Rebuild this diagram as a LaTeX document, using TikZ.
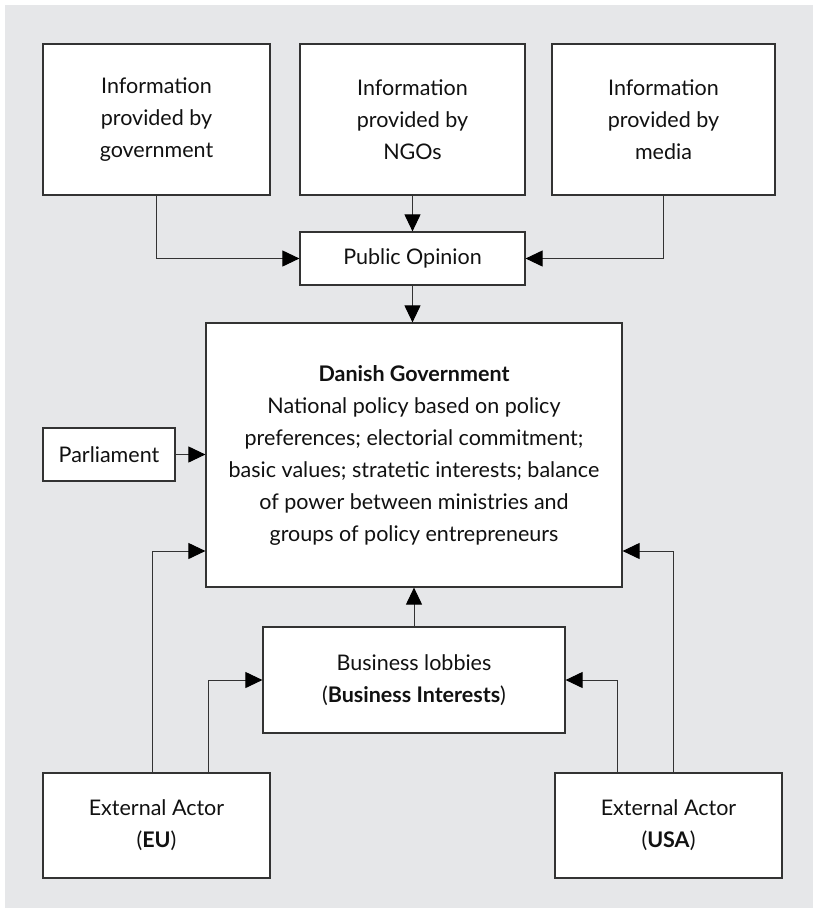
\documentclass[tikz,border=0pt]{standalone}
\usepackage{fontspec}
\setmainfont{Lato}
\usetikzlibrary{arrows.meta}
\definecolor{bg}{HTML}{E6E7E9}
\definecolor{ln}{HTML}{333333}
\definecolor{tx}{HTML}{111111}
\begin{document}
\begin{tikzpicture}[x=1pt,y=-1pt,
  box/.style={draw=ln, line width=1.2pt, fill=white, inner sep=0pt, align=center,
    font=\fontsize{21.5}{32}\selectfont, text=tx},
  conn/.style={draw=ln, line width=1pt, -{Triangle[length=17pt,width=16pt,fill=black,color=black]}}]
\useasboundingbox (0,0) rectangle (813,911);
\fill[bg] (5,5) rectangle (813,908);
% top row
\node[box, minimum width=227pt, minimum height=151pt] (ginfo) at (156.5,119.5) {Information\\provided by\\government};
\node[box, minimum width=225pt, minimum height=151pt] (ngo) at (412.5,119.5) {Information\\provided by\\NGOs};
\node[box, minimum width=223pt, minimum height=151pt] (media) at (663.5,119.5) {Information\\provided by\\media};
% public opinion
\node[box, minimum width=225pt, minimum height=53pt] (po) at (412.5,258.5) {Public Opinion};
% government
\node[box, minimum width=416pt, minimum height=264pt] (gov) at (414,455) {\textbf{Danish Government}\\National policy based on policy\\preferences; electorial commitment;\\basic values; stratetic interests; balance\\of power between ministries and\\groups of policy entrepreneurs};
% parliament
\node[box, minimum width=132pt, minimum height=53pt] (parl) at (109,454.5) {Parliament};
% business
\node[box, minimum width=302pt, minimum height=106pt] (biz) at (414,680) {Business lobbies\\(\textbf{Business Interests})};
% external actors
\node[box, minimum width=227pt, minimum height=105pt] (eu) at (156.5,825.5) {External Actor\\(\textbf{EU})};
\node[box, minimum width=227pt, minimum height=105pt] (usa) at (668.5,825.5) {External Actor\\(\textbf{USA})};
% connectors
\draw[conn] (ginfo.south) |- (po.west);
\draw[conn] (ngo.south) -- (po.north);
\draw[conn] (media.south) |- (po.east);
\draw[conn] (po.south) -- (po.south |- gov.north);
\draw[conn] (parl.east) -- (parl.east -| gov.west);
\draw[conn] (biz.north) -- (biz.north |- gov.south);
\draw[conn] ([xshift=110pt]eu.north west) |- ([yshift=-96pt]gov.west);
\draw[conn] ([xshift=166pt]eu.north west) |- (biz.west);
\draw[conn] ([xshift=63pt]usa.north west) |- (biz.east);
\draw[conn] ([xshift=119pt]usa.north west) |- ([yshift=-96pt]gov.east);
\end{tikzpicture}
\end{document}
